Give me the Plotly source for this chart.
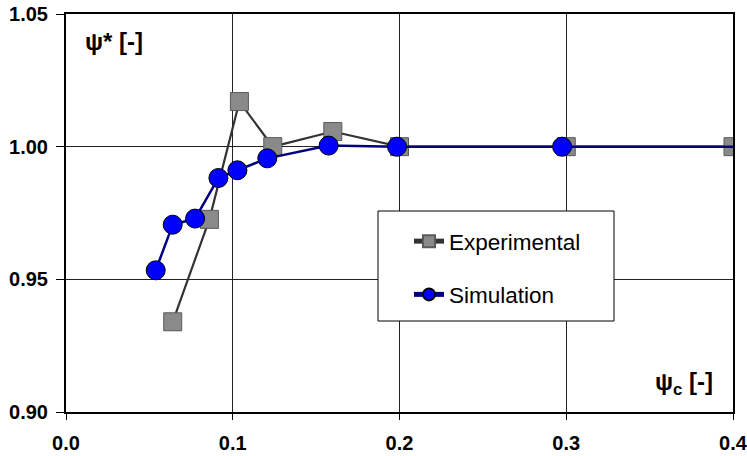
import plotly.graph_objects as go

exp_x = [0.064, 0.086, 0.104, 0.124, 0.160, 0.200, 0.300, 0.400]
exp_y = [0.934, 0.9726, 1.017, 1.000, 1.0057, 1.000, 1.000, 1.000]

sim_x = [0.0538, 0.064, 0.0774, 0.0914, 0.1028, 0.1207, 0.1575, 0.1985, 0.2975, 0.400]
sim_y = [0.9534, 0.9706, 0.9729, 0.9882, 0.9911, 0.9956, 1.0004, 1.000, 1.000, 1.000]
sim_marker_size = [19] * (len(sim_x) - 1) + [0]

x_ticks = [0.0, 0.1, 0.2, 0.3, 0.4]
x_tick_labels = ["0.0", "0.1", "0.2", "0.3", "0.4"]
y_ticks = [0.90, 0.95, 1.00, 1.05]
y_tick_labels = ["0.90", "0.95", "1.00", "1.05"]

FONT = "Liberation Sans, Arial, sans-serif"
W, H = 747, 456
L, R, T, B = 66, 14, 14, 44
PW, PH = W - L - R, H - T - B

def px2paper(px, py):
    return (px - L) / PW, (H - B - py) / PH

fig = go.Figure()
fig.add_trace(go.Scatter(
    x=exp_x, y=exp_y, mode="lines+markers", name="Experimental",
    legendgroup="e",
    line=dict(color="#333333", width=2.2),
    marker=dict(symbol="square", size=18, color="#8a8a8a", opacity=1,
                line=dict(color="#5a5a5a", width=1)),
))
fig.add_trace(go.Scatter(
    x=sim_x, y=sim_y, mode="lines+markers", name="Simulation",
    legendgroup="s",
    line=dict(color="#000080", width=2.5),
    marker=dict(symbol="circle", size=sim_marker_size, color="#0000ff", opacity=1,
                line=dict(color="#000000", width=1)),
))

lx0, ly0 = px2paper(378, 321)
lx1, ly1 = px2paper(614, 211)
fig.add_shape(type="rect", xref="paper", yref="paper",
              x0=lx0, y0=ly0, x1=lx1, y1=ly1,
              line=dict(color="black", width=1), fillcolor="white", layer="above")

legx, legy = px2paper(409, 220)
ax1x, ax1y = px2paper(114, 42)
ax2x, ax2y = px2paper(684, 383)

fig.update_layout(
    width=W, height=H,
    margin=dict(l=L, r=R, t=T, b=B, autoexpand=False),
    paper_bgcolor="white", plot_bgcolor="white",
    font=dict(family=FONT, color="black"),
    legend=dict(x=legx, y=legy, xanchor="left", yanchor="top",
                bgcolor="rgba(0,0,0,0)", borderwidth=0,
                font=dict(family=FONT, size=22.5, color="black"),
                tracegroupgap=21, itemsizing="constant"),
    xaxis=dict(range=[0, 0.4], tickvals=x_ticks, ticktext=x_tick_labels,
               showgrid=True, gridcolor="#222222", gridwidth=1,
               showline=True, linecolor="black", linewidth=2, mirror=True,
               ticks="outside", ticklen=6, tickcolor="black",
               tickfont=dict(family=FONT, size=20, color="black", weight="bold"),
               zeroline=False, ticklabelstandoff=6, automargin=False,
               ticklabeloverflow="allow"),
    yaxis=dict(range=[0.90, 1.05], tickvals=y_ticks, ticktext=y_tick_labels,
               showgrid=True, gridcolor="#222222", gridwidth=1,
               showline=True, linecolor="black", linewidth=2, mirror=True,
               ticks="outside", ticklen=8, tickcolor="black",
               tickfont=dict(family=FONT, size=20, color="black", weight="bold"),
               zeroline=False, ticklabelstandoff=4, automargin=False,
               ticklabeloverflow="allow"),
    annotations=[
        dict(xref="paper", yref="paper", x=ax1x, y=ax1y, showarrow=False,
             xanchor="center", yanchor="middle",
             text="<b>ψ* [-]</b>", font=dict(family=FONT, size=24, color="black")),
        dict(xref="paper", yref="paper", x=ax2x, y=ax2y, showarrow=False,
             xanchor="center", yanchor="middle",
             text="<b>ψ<sub>c</sub> [-]</b>", font=dict(family=FONT, size=24, color="black")),
    ],
    showlegend=True,
)

fig.write_html("out.html", config={"displayModeBar": False},
               post_script="document.body.style.margin='0';document.body.style.padding='0';")
